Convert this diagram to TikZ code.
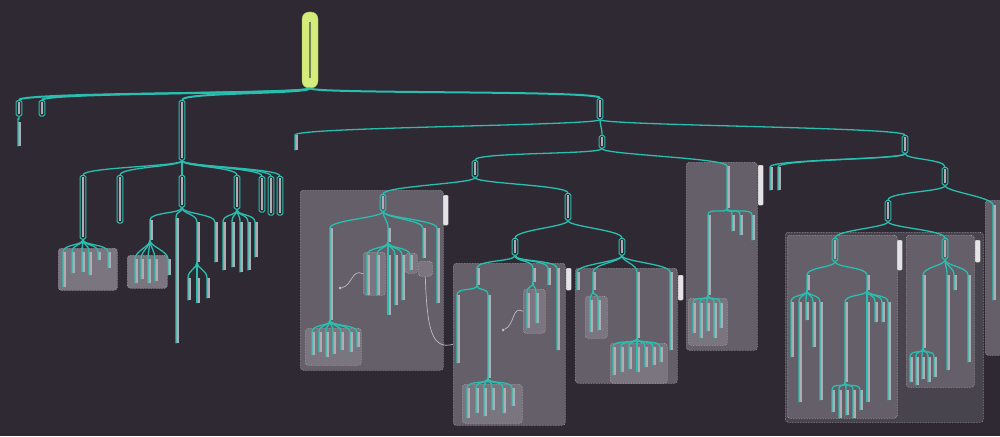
\documentclass[tikz,border=0pt]{standalone}
\usepackage{xcolor}
\definecolor{bgc}{RGB}{46,41,51}
\definecolor{brc}{RGB}{42,190,176}
\definecolor{txtc}{RGB}{176,172,180}
\definecolor{grpc}{RGB}{100,95,104}
\definecolor{grplite}{RGB}{122,117,126}
\definecolor{grpdark}{RGB}{72,68,77}
\definecolor{grpline}{RGB}{175,172,178}
\definecolor{rootc}{RGB}{212,236,122}
\definecolor{rootxt}{RGB}{120,130,90}
\definecolor{tagc}{RGB}{228,228,230}
\definecolor{relc}{RGB}{190,188,192}
\newcommand{\tbar}[1]{\textcolor{txtc}{\rule{2pt}{#1pt}}}
\begin{document}
\begin{tikzpicture}[x=1pt,y=-1pt,
    rootnode/.style={fill=rootc,draw=rootc!80!black,rounded corners=7pt,minimum width=16,minimum height=76,inner sep=0},
    topicbox/.style={draw=brc,line width=1pt,rounded corners=1.5pt,inner sep=1.8pt,anchor=north},
    leafbar/.style={fill=txtc,minimum width=3.2,inner sep=0,anchor=north west},
    grpbox/.style={fill=grpc,draw=grpline,densely dotted,line width=0.6pt,rounded corners=3pt,inner sep=0,anchor=north west},
    subgrp/.style={grpbox,fill=grplite},
    tagbox/.style={fill=tagc,draw=grpline,line width=0.4pt,rounded corners=1pt,minimum width=5,inner sep=0,anchor=north west},
    branch/.style={draw=brc,line width=1.3pt},
    branch1/.style={draw=brc,line width=2pt},
    relline/.style={draw=relc,line width=0.7pt},
    relend/.style={circle,fill=relc,inner sep=0,minimum size=3},
    mmap/.style={to path={.. controls +(0,6) and +(0,-8) .. (\tikztotarget)}}]
  \useasboundingbox (0,0) rectangle (1000,436);
  \fill[bgc] (0,0) rectangle (1000,436);
  % groups
  \node[grpbox,fill=grpdark,minimum width=198,minimum height=190] (GL) at (785,232) {};
  \node[grpbox,minimum width=110,minimum height=183] (GLa) at (787,235) {};
  \node[grpbox,minimum width=68,minimum height=152] (GLb) at (906,235) {};
  \node[grpbox,minimum width=143,minimum height=180] (G1) at (300,190) {};
  \node[grpbox,minimum width=71,minimum height=188] (G2) at (686,162) {};
  \node[grpbox,minimum width=112,minimum height=162] (G3) at (453,263) {};
  \node[grpbox,minimum width=102,minimum height=115] (G4) at (575,268) {};
  \node[subgrp,minimum width=59,minimum height=42] (Gc1) at (58,248) {};
  \node[subgrp,minimum width=40,minimum height=33] (Gc3a) at (127,255) {};
  \node[subgrp,minimum width=56,minimum height=37] (Gk1) at (305,328) {};
  \node[subgrp,minimum width=22,minimum height=43] (Gk2) at (363,252) {};
  \node[subgrp,minimum width=12,minimum height=20] (Gk2b) at (405,253) {};
  \node[subgrp,minimum width=14,minimum height=15] (Gk3) at (418,261) {};
  \node[subgrp,minimum width=39,minimum height=47] (Ge2) at (688,298) {};
  \node[subgrp,minimum width=60,minimum height=39] (Gi1b) at (462,384) {};
  \node[subgrp,minimum width=22,minimum height=44] (Gi2) at (523,289) {};
  \node[subgrp,minimum width=22,minimum height=42] (Gj2) at (585,296) {};
  \node[subgrp,minimum width=57,minimum height=40] (Gj3) at (610,343) {};
  \node[grpbox,minimum width=25,minimum height=155] (Gl2) at (985,200) {};
  \node[tagbox,minimum height=30] (G1t) at (443,195) {};
  \node[tagbox,minimum height=40] (G2t) at (758,165) {};
  \node[tagbox,minimum height=22] (G3t) at (566,268) {};
  \node[tagbox,minimum height=25] (G4t) at (678,275) {};
  \node[tagbox,minimum height=30] (GLat) at (897,240) {};
  \node[tagbox,minimum height=22] (GLbt) at (975,240) {};
  % topics
  \node[rootnode] (root) at (310,50) {\textcolor{rootxt}{\rule{2pt}{56pt}}};
  \draw
    (19,100) node[topicbox] (a1){\tbar{12}}
    (42,100) node[topicbox] (a2){\tbar{12}}
    (182,100) node[topicbox] (a3){\tbar{56}}
    (600,98) node[topicbox] (a4){\tbar{17}}
    (83,175) node[topicbox] (c1){\tbar{60}}
    (120,175) node[topicbox] (c2){\tbar{44}}
    (182,175) node[topicbox] (c3){\tbar{28}}
    (237,175) node[topicbox] (c4){\tbar{30}}
    (262,176) node[topicbox] (c5){\tbar{32}}
    (271,176) node[topicbox] (c6){\tbar{35}}
    (280,176) node[topicbox] (c7){\tbar{35}}
    (602,135) node[topicbox] (d2){\tbar{9}}
    (905,135) node[topicbox] (d3){\tbar{14}}
    (475,160) node[topicbox] (e1){\tbar{13}}
    (945,167) node[topicbox] (f3){\tbar{14}}
    (383,194) node[topicbox] (g1){\tbar{13}}
    (568,193) node[topicbox] (g2){\tbar{23}}
    (515,238) node[topicbox] (h1){\tbar{13}}
    (622,238) node[topicbox] (h2){\tbar{13}}
    (888,200) node[topicbox] (l1){\tbar{17}}
    (835,238) node[topicbox] (m1){\tbar{19}}
    (945,238) node[topicbox] (m2){\tbar{17}};
  % single leaves
  \draw
    (18,122) node[leafbar,minimum height=24] (a1l){}
    (150,220) node[leafbar,minimum height=20] (c3a){}
    (176,218) node[leafbar,minimum height=125] (c3b){}
    (197,222) node[leafbar,minimum height=40] (c3c){}
    (215,222) node[leafbar,minimum height=40] (c3d){}
    (295,135) node[leafbar,minimum height=15] (d1){}
    (727,166) node[leafbar,minimum height=42] (e2){}
    (708,215) node[leafbar,minimum height=80] (e2a){}
    (770,167) node[leafbar,minimum height=23] (f1){}
    (778,167) node[leafbar,minimum height=23] (f2){}
    (330,228) node[leafbar,minimum height=92] (k1){}
    (388,228) node[leafbar,minimum height=14] (k2){}
    (423,228) node[leafbar,minimum height=30] (k3){}
    (437,228) node[leafbar,minimum height=75] (k4){}
    (477,268) node[leafbar,minimum height=17] (i1){}
    (457,295) node[leafbar,minimum height=68] (i1a){}
    (488,295) node[leafbar,minimum height=83] (i1b){}
    (533,268) node[leafbar,minimum height=14] (i2){}
    (548,268) node[leafbar,minimum height=17] (i3){}
    (557,268) node[leafbar,minimum height=82] (i4){}
    (577,272) node[leafbar,minimum height=18] (j1){}
    (593,272) node[leafbar,minimum height=18] (j2){}
    (637,272) node[leafbar,minimum height=66] (j3){}
    (670,272) node[leafbar,minimum height=78] (j4){}
    (993,205) node[leafbar,minimum height=95] (l2){}
    (807,275) node[leafbar,minimum height=15] (n1){}
    (867,275) node[leafbar,minimum height=15] (n2){}
    (845,302) node[leafbar,minimum height=80] (n2a){}
    (923,275) node[leafbar,minimum height=73] (o1){};
  % branches
  \begin{scope}[branch1]
    \draw (root.south) to[mmap] (a1.north);
    \draw (root.south) to[mmap] (a2.north);
    \draw (root.south) to[mmap] (a3.north);
    \draw (root.south) to[mmap] (a4.north);
  \end{scope}
  \begin{scope}[branch]
    \draw (a1.south) to[mmap] (a1l.north west) -- (a1l.south west);
    \draw (a3.south) to[mmap] (c1.north);
    \draw (a3.south) to[mmap] (c2.north);
    \draw (a3.south) to[mmap] (c3.north);
    \draw (a3.south) to[mmap] (c4.north);
    \draw (a3.south) to[mmap] (c5.north);
    \draw (a3.south) to[mmap] (c6.north);
    \draw (a3.south) to[mmap] (c7.north);
    \draw (c3.south) to[mmap] (c3a.north west) -- (c3a.south west);
    \draw (c3.south) to[mmap] (c3b.north west) -- (c3b.south west);
    \draw (c3.south) to[mmap] (c3c.north west) -- (c3c.south west);
    \draw (c3.south) to[mmap] (c3d.north west) -- (c3d.south west);
    \draw (a4.south) to[mmap] (d1.north west) -- (d1.south west);
    \draw (a4.south) to[mmap] (d2.north);
    \draw (a4.south) to[mmap] (d3.north);
    \draw (d2.south) to[mmap] (e1.north);
    \draw (d2.south) to[mmap] (e2.north west) -- (e2.south west);
    \draw (e2.south west) to[mmap] (e2a.north west) -- (e2a.south west);
    \draw (d3.south) to[mmap] (f1.north west) -- (f1.south west);
    \draw (d3.south) to[mmap] (f2.north west) -- (f2.south west);
    \draw (d3.south) to[mmap] (f3.north);
    \draw (e1.south) to[mmap] (g1.north);
    \draw (e1.south) to[mmap] (g2.north);
    \draw (g1.south) to[mmap] (k1.north west) -- (k1.south west);
    \draw (g1.south) to[mmap] (k2.north west) -- (k2.south west);
    \draw (g1.south) to[mmap] (k3.north west) -- (k3.south west);
    \draw (g1.south) to[mmap] (k4.north west) -- (k4.south west);
    \draw (g2.south) to[mmap] (h1.north);
    \draw (g2.south) to[mmap] (h2.north);
    \draw (h1.south) to[mmap] (i1.north west) -- (i1.south west);
    \draw (h1.south) to[mmap] (i2.north west) -- (i2.south west);
    \draw (h1.south) to[mmap] (i3.north west) -- (i3.south west);
    \draw (h1.south) to[mmap] (i4.north west) -- (i4.south west);
    \draw (i1.south west) to[mmap] (i1a.north west) -- (i1a.south west);
    \draw (i1.south west) to[mmap] (i1b.north west) -- (i1b.south west);
    \draw (h2.south) to[mmap] (j1.north west) -- (j1.south west);
    \draw (h2.south) to[mmap] (j2.north west) -- (j2.south west);
    \draw (h2.south) to[mmap] (j3.north west) -- (j3.south west);
    \draw (h2.south) to[mmap] (j4.north west) -- (j4.south west);
    \draw (f3.south) to[mmap] (l1.north);
    \draw (f3.south) to[mmap] (l2.north west) -- (l2.south west);
    \draw (l1.south) to[mmap] (m1.north);
    \draw (l1.south) to[mmap] (m2.north);
    \draw (m1.south) to[mmap] (n1.north west) -- (n1.south west);
    \draw (m1.south) to[mmap] (n2.north west) -- (n2.south west);
    \draw (n2.south west) to[mmap] (n2a.north west) -- (n2a.south west);
    \draw (m2.south) to[mmap] (o1.north west) -- (o1.south west);
  \end{scope}
  % leaf clusters
  \foreach \x/\h [count=\i] in {63/35,72/21,82/20,89/23,98/8,108/16} {
    \node[leafbar,minimum height=\h] (c1-\i) at (\x,252) {};
    \draw[branch] (c1.south) to[mmap] (c1-\i.north west) -- (c1-\i.south west);
  }
  \foreach \x/\h [count=\i] in {135/24,141/20,148/24,155/22,168/16} {
    \node[leafbar,minimum height=\h] (c3a-\i) at (\x,259) {};
    \draw[branch] (c3a.south west) to[mmap] (c3a-\i.north west) -- (c3a-\i.south west);
  }
  \foreach \x/\h [count=\i] in {188/22,197/25,207/20} {
    \node[leafbar,minimum height=\h] (c3c-\i) at (\x,278) {};
    \draw[branch] (c3c.south west) to[mmap] (c3c-\i.north west) -- (c3c-\i.south west);
  }
  \foreach \x/\h [count=\i] in {223/48,232/45,240/50,248/48,255/35} {
    \node[leafbar,minimum height=\h] (c4-\i) at (\x,222) {};
    \draw[branch] (c4.south) to[mmap] (c4-\i.north west) -- (c4-\i.south west);
  }
  \foreach \x/\h [count=\i] in {732/16,740/20,752/25} {
    \node[leafbar,minimum height=\h] (e2-\i) at (\x,215) {};
    \draw[branch] (e2.south west) to[mmap] (e2-\i.north west) -- (e2-\i.south west);
  }
  \foreach \x/\h [count=\i] in {693/30,700/35,707/28,714/35,720/25} {
    \node[leafbar,minimum height=\h] (e2a-\i) at (\x,303) {};
    \draw[branch] (e2a.south west) to[mmap] (e2a-\i.north west) -- (e2a-\i.south west);
  }
  \foreach \x/\h [count=\i] in {312/23,319/20,326/25,333/22,341/18,350/20,357/15} {
    \node[leafbar,minimum height=\h] (k1-\i) at (\x,332) {};
    \draw[branch] (k1.south west) to[mmap] (k1-\i.north west) -- (k1-\i.south west);
  }
  \foreach \x/\h [count=\i] in {367/40,377/40,388/60,395/50,402/45,410/15} {
    \node[leafbar,minimum height=\h] (k2-\i) at (\x,255) {};
    \draw[branch] (k2.south west) to[mmap] (k2-\i.north west) -- (k2-\i.south west);
  }
  \foreach \x/\h [count=\i] in {467/30,476/25,484/28,492/22,503/25,512/18} {
    \node[leafbar,minimum height=\h] (i1b-\i) at (\x,388) {};
    \draw[branch] (i1b.south west) to[mmap] (i1b-\i.north west) -- (i1b-\i.south west);
  }
  \foreach \x/\h [count=\i] in {527/35,536/30} {
    \node[leafbar,minimum height=\h] (i2-\i) at (\x,293) {};
    \draw[branch] (i2.south west) to[mmap] (i2-\i.north west) -- (i2-\i.south west);
  }
  \foreach \x/\h [count=\i] in {590/32,598/30} {
    \node[leafbar,minimum height=\h] (j2-\i) at (\x,300) {};
    \draw[branch] (j2.south west) to[mmap] (j2-\i.north west) -- (j2-\i.south west);
  }
  \foreach \x/\h [count=\i] in {613/28,621/25,629/22,637/25,645/20,653/18,660/15} {
    \node[leafbar,minimum height=\h] (j3-\i) at (\x,347) {};
    \draw[branch] (j3.south west) to[mmap] (j3-\i.north west) -- (j3-\i.south west);
  }
  \foreach \x/\h [count=\i] in {791/55,799/100,806/18,813/45,820/98} {
    \node[leafbar,minimum height=\h] (n1-\i) at (\x,302) {};
    \draw[branch] (n1.south west) to[mmap] (n1-\i.north west) -- (n1-\i.south west);
  }
  \foreach \x/\h [count=\i] in {867/100,875/20,882/20,888/98} {
    \node[leafbar,minimum height=\h] (n2-\i) at (\x,302) {};
    \draw[branch] (n2.south west) to[mmap] (n2-\i.north west) -- (n2-\i.south west);
  }
  \foreach \x/\h [count=\i] in {832/22,839/28,846/25,853/28,860/20} {
    \node[leafbar,minimum height=\h] (n2a-\i) at (\x,390) {};
    \draw[branch] (n2a.south west) to[mmap] (n2a-\i.north west) -- (n2a-\i.south west);
  }
  \foreach \x/\h [count=\i] in {947/95,954/15,968/87} {
    \node[leafbar,minimum height=\h] (m2-\i) at (\x,275) {};
    \draw[branch] (m2.south) to[mmap] (m2-\i.north west) -- (m2-\i.south west);
  }
  \foreach \x/\h [count=\i] in {910/25,916/28,922/22,928/25,934/20} {
    \node[leafbar,minimum height=\h] (o1-\i) at (\x,357) {};
    \draw[branch] (o1.south west) to[mmap] (o1-\i.north west) -- (o1-\i.south west);
  }
  % relations
  \node[relend] (r1) at (340,288) {};
  \node[relend] (r3) at (503,330) {};
  \draw[relline] (r1) .. controls (352,286) and (352,268) .. (Gk2.west);
  \draw[relline] (Gk3.south) .. controls (427,330) and (432,350) .. (G3.west);
  \draw[relline] (r3) .. controls (515,325) and (512,305) .. (Gi2.west);
\end{tikzpicture}
\end{document}
